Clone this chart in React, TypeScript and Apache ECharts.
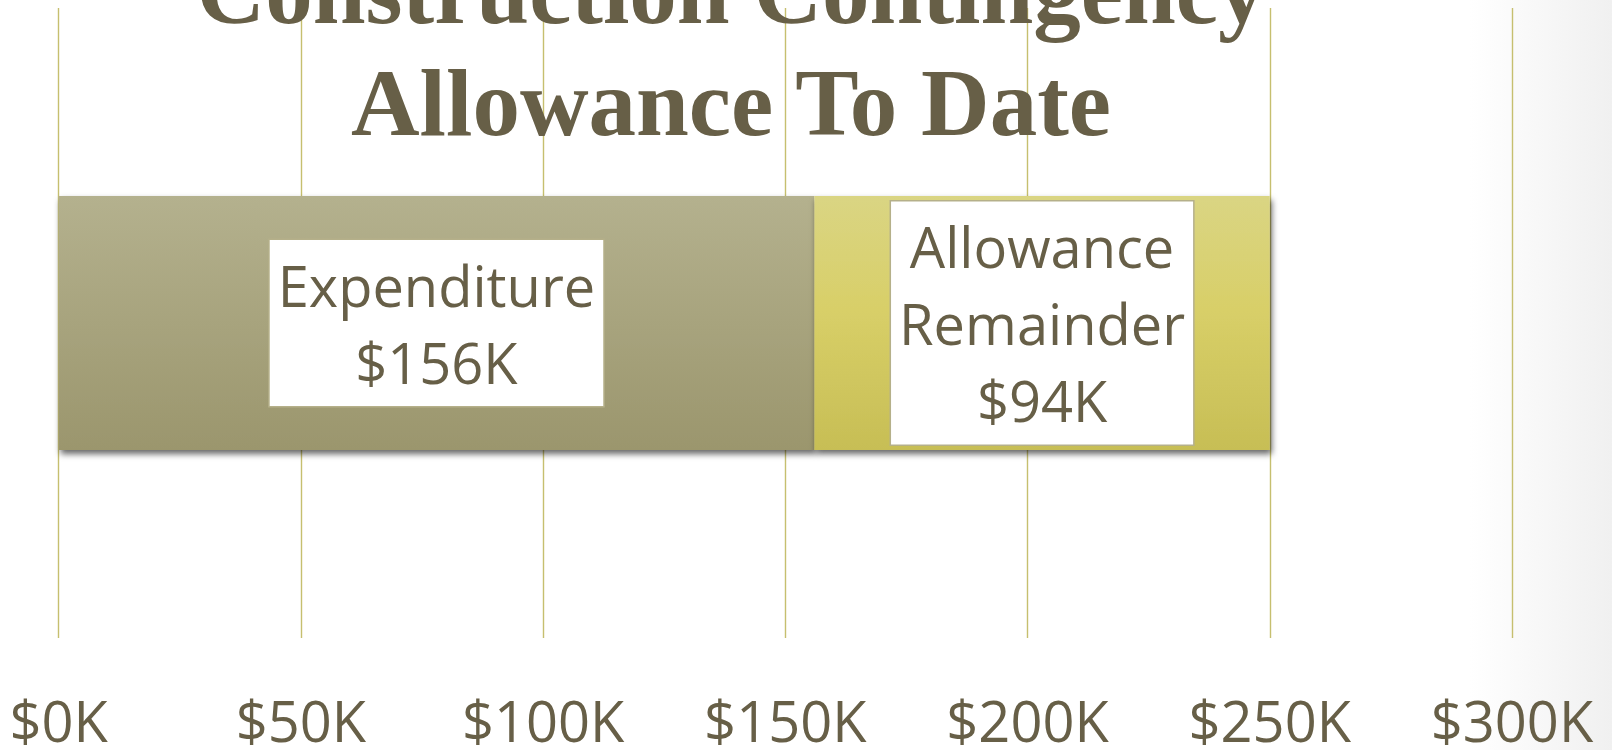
import React, { useEffect, useRef } from "react";
import * as echarts from "echarts";

const categories = ["Contingency"];
const expenditure = [156];
const remainder = [94];
const seriesNames = ["Expenditure", "Allowance Remainder"];
const labelLines = [["Expenditure"], ["Allowance", "Remainder"]];
const titleLines = ["Construction Contingency", "Allowance To Date"];
const axisMin = 0;
const axisMax = 300;
const axisInterval = 50;

const TEXT = "#675f47";

export default function App() {
  const ref = useRef<HTMLDivElement>(null);
  useEffect(() => {
    if (!ref.current) return;
    const chart = echarts.init(ref.current, null, { renderer: "svg" });
    const labelStyle = (idx: number) => ({
      show: true,
      position: "inside",
      formatter: (p: any) => `${labelLines[idx].join("\n")}\n$${p.value}K`,
      fontFamily: "Open Sans",
      fontSize: 56,
      lineHeight: 77,
      color: TEXT,
      backgroundColor: "#ffffff",
      borderColor: "#b5b08a",
      borderWidth: 1.5,
      padding: [6, 8],
    });
    const shadow = {
      shadowColor: "rgba(0,0,0,0.6)",
      shadowBlur: 6,
      shadowOffsetX: 2,
      shadowOffsetY: 4,
    };
    chart.setOption({
      animation: false,
      backgroundColor: "#ffffff",
      graphic: [
        {
          type: "rect",
          z: -10,
          shape: { x: 1470, y: 0, width: 142, height: 750 },
          style: {
            fill: new echarts.graphic.LinearGradient(0, 0, 1, 0, [
              { offset: 0, color: "rgba(240,240,240,0)" },
              { offset: 1, color: "rgba(240,240,240,1)" },
            ]),
          },
          silent: true,
        },
        {
          type: "text",
          x: 731,
          y: -9,
          z: 10,
          style: {
            text: titleLines[0],
            font: "bold 95px 'Liberation Serif'",
            fill: TEXT,
            align: "center",
            verticalAlign: "middle",
          },
        },
        {
          type: "text",
          x: 731,
          y: 103,
          z: 10,
          style: {
            text: titleLines[1],
            font: "bold 95px 'Liberation Serif'",
            fill: TEXT,
            align: "center",
            verticalAlign: "middle",
          },
        },
      ],
      grid: { left: 58.6, right: 100, top: 8, bottom: 112, containLabel: false },
      xAxis: {
        type: "value",
        min: axisMin,
        max: axisMax,
        interval: axisInterval,
        axisLine: { show: false },
        axisTick: { show: false },
        splitLine: { show: true, lineStyle: { color: "#c6bf6f", width: 1.4 } },
        axisLabel: {
          formatter: (v: number) => `$${v}K`,
          fontFamily: "Open Sans",
          fontSize: 56,
          lineHeight: 50,
          color: TEXT,
          margin: 57,
        },
      },
      yAxis: {
        type: "category",
        data: categories,
        show: false,
      },
      series: [
        {
          name: seriesNames[0],
          type: "bar",
          stack: "total",
          data: expenditure,
          barWidth: 254,
          itemStyle: {
            color: new echarts.graphic.LinearGradient(0, 0, 0, 1, [
              { offset: 0, color: "#b4b18e" },
              { offset: 1, color: "#9b966d" },
            ]),
            ...shadow,
          },
          label: labelStyle(0),
        },
        {
          name: seriesNames[1],
          type: "bar",
          stack: "total",
          data: remainder,
          barWidth: 254,
          itemStyle: {
            color: new echarts.graphic.LinearGradient(0, 0, 0, 1, [
              { offset: 0, color: "#dad583" },
              { offset: 0.45, color: "#d8cf68" },
              { offset: 1, color: "#c7be55" },
            ]),
            ...shadow,
          },
          label: labelStyle(1),
        },
      ],
    });
    return () => chart.dispose();
  }, []);
  return (
    <div
      ref={ref}
      style={{ position: "fixed", left: 0, top: 0, width: 1612, height: 750 }}
    />
  );
}
